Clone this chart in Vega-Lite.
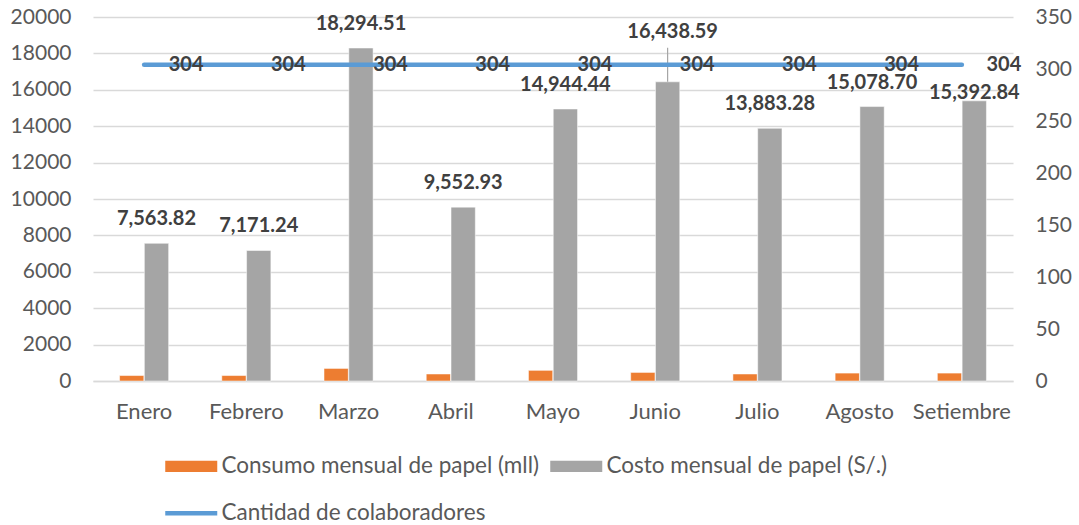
{
  "$schema": "https://vega.github.io/schema/vega-lite/v6.json",
  "autosize": {"type": "none"},
  "width": 920,
  "height": 364,
  "padding": {"left": 93, "top": 17, "right": 66, "bottom": 144},
  "background": "white",
  "config": {
    "view": {"stroke": null},
    "font": "Lato",
    "axis": {"labelFont": "Lato", "labelFontSize": 21, "labelColor": "#595959", "ticks": false, "domain": false},
    "legend": {"labelFont": "Lato", "labelFontSize": 22.5, "labelColor": "#595959"}
  },
  "data": {
    "values": [
      {"mes": "Enero", "serie": "Consumo mensual de papel (mll)", "valor": 300},
      {"mes": "Febrero", "serie": "Consumo mensual de papel (mll)", "valor": 300},
      {"mes": "Marzo", "serie": "Consumo mensual de papel (mll)", "valor": 690},
      {"mes": "Abril", "serie": "Consumo mensual de papel (mll)", "valor": 385},
      {"mes": "Mayo", "serie": "Consumo mensual de papel (mll)", "valor": 585},
      {"mes": "Junio", "serie": "Consumo mensual de papel (mll)", "valor": 470},
      {"mes": "Julio", "serie": "Consumo mensual de papel (mll)", "valor": 385},
      {"mes": "Agosto", "serie": "Consumo mensual de papel (mll)", "valor": 435},
      {"mes": "Setiembre", "serie": "Consumo mensual de papel (mll)", "valor": 435},
      {"mes": "Enero", "serie": "Costo mensual de papel (S/.)", "valor": 7563.82},
      {"mes": "Febrero", "serie": "Costo mensual de papel (S/.)", "valor": 7171.24},
      {"mes": "Marzo", "serie": "Costo mensual de papel (S/.)", "valor": 18294.51},
      {"mes": "Abril", "serie": "Costo mensual de papel (S/.)", "valor": 9552.93},
      {"mes": "Mayo", "serie": "Costo mensual de papel (S/.)", "valor": 14944.44},
      {"mes": "Junio", "serie": "Costo mensual de papel (S/.)", "valor": 16438.59},
      {"mes": "Julio", "serie": "Costo mensual de papel (S/.)", "valor": 13883.28},
      {"mes": "Agosto", "serie": "Costo mensual de papel (S/.)", "valor": 15078.70},
      {"mes": "Setiembre", "serie": "Costo mensual de papel (S/.)", "valor": 15392.84},
      {"mes": "Enero", "serie": "Cantidad de colaboradores", "valor": 304},
      {"mes": "Febrero", "serie": "Cantidad de colaboradores", "valor": 304},
      {"mes": "Marzo", "serie": "Cantidad de colaboradores", "valor": 304},
      {"mes": "Abril", "serie": "Cantidad de colaboradores", "valor": 304},
      {"mes": "Mayo", "serie": "Cantidad de colaboradores", "valor": 304},
      {"mes": "Junio", "serie": "Cantidad de colaboradores", "valor": 304},
      {"mes": "Julio", "serie": "Cantidad de colaboradores", "valor": 304},
      {"mes": "Agosto", "serie": "Cantidad de colaboradores", "valor": 304},
      {"mes": "Setiembre", "serie": "Cantidad de colaboradores", "valor": 304}
    ]
  },
  "encoding": {
    "x": {
      "field": "mes", "type": "nominal",
      "sort": ["Enero", "Febrero", "Marzo", "Abril", "Mayo", "Junio", "Julio", "Agosto", "Setiembre"],
      "scale": {"paddingInner": 0.52, "paddingOuter": 0.26},
      "axis": {"title": null, "labelAngle": 0, "labelPadding": 20, "labelFontSize": 22, "grid": false, "domain": true, "domainColor": "#d9d9d9", "domainWidth": 1.5}
    }
  },
  "layer": [
    {
      "transform": [{"filter": "datum.serie !== 'Cantidad de colaboradores'"}],
      "encoding": {
        "y": {
          "field": "valor", "type": "quantitative",
          "scale": {"domain": [0, 20000], "nice": false},
          "axis": {"title": null, "values": [0, 2000, 4000, 6000, 8000, 10000, 12000, 14000, 16000, 18000, 20000], "format": "d", "grid": true, "gridColor": "#d9d9d9", "gridWidth": 1.5, "labelPadding": 22, "orient": "left"}
        }
      },
      "layer": [
        {
          "mark": {"type": "bar", "stroke": "white", "strokeWidth": 0.5},
          "encoding": {
            "xOffset": {"field": "serie", "type": "nominal", "scale": {"paddingInner": 0.02}},
            "color": {
              "field": "serie", "type": "nominal",
              "scale": {"domain": ["Consumo mensual de papel (mll)", "Cantidad de colaboradores", "Costo mensual de papel (S/.)"], "range": ["#ed7d31", "#5b9bd5", "#a5a5a5"]},
              "legend": {
                "title": null, "orient": "none", "legendX": 87, "legendY": 438,
                "columns": 2, "columnPadding": 11, "rowPadding": 24, "padding": 0,
                "symbolSize": 2704, "labelOffset": 19, "labelLimit": 500,
                "symbolType": {"expr": "datum.value === 'Cantidad de colaboradores' ? 'M-1,0H1' : 'M-1,-0.22H1V0.22H-1Z'"},
                "symbolStrokeColor": {"expr": "datum.value === 'Cantidad de colaboradores' ? '#5b9bd5' : 'transparent'"},
                "symbolStrokeWidth": {"expr": "datum.value === 'Cantidad de colaboradores' ? 4.5 : 0"},
                "symbolOpacity": 1
              }
            }
          }
        },
        {
          "transform": [{"filter": "datum.serie === 'Costo mensual de papel (S/.)' && datum.mes !== 'Junio' && datum.mes !== 'Setiembre'"}],
          "mark": {"type": "text", "dy": -24, "fontWeight": "bold", "fontSize": 20, "color": "#404040", "font": "Lato"},
          "encoding": {
            "xOffset": {"field": "serie", "type": "nominal"},
            "text": {"field": "valor", "type": "quantitative", "format": ",.2f"}
          }
        },
        {
          "transform": [{"filter": "datum.serie === 'Costo mensual de papel (S/.)' && datum.mes === 'Setiembre'"}],
          "mark": {"type": "text", "dy": -8, "fontWeight": "bold", "fontSize": 20, "color": "#404040", "font": "Lato"},
          "encoding": {
            "xOffset": {"field": "serie", "type": "nominal"},
            "text": {"field": "valor", "type": "quantitative", "format": ",.2f"}
          }
        },
        {
          "transform": [{"filter": "datum.serie === 'Costo mensual de papel (S/.)' && datum.mes === 'Junio'"}],
          "mark": {"type": "text", "dy": -50, "dx": 5, "fontWeight": "bold", "fontSize": 20, "color": "#404040", "font": "Lato"},
          "encoding": {
            "xOffset": {"field": "serie", "type": "nominal"},
            "text": {"field": "valor", "type": "quantitative", "format": ",.2f"}
          }
        },
        {
          "transform": [{"filter": "datum.serie === 'Costo mensual de papel (S/.)' && datum.mes === 'Junio'"}],
          "mark": {"type": "rule", "color": "#a5a5a5", "strokeWidth": 1.2, "y2Offset": -34},
          "encoding": {
            "xOffset": {"field": "serie", "type": "nominal"},
            "y2": {"field": "valor"}
          }
        }
      ]
    },
    {
      "transform": [{"filter": "datum.serie === 'Cantidad de colaboradores'"}],
      "encoding": {
        "y": {
          "field": "valor", "type": "quantitative",
          "scale": {"domain": [0, 350], "nice": false},
          "axis": {"title": null, "orient": "right", "values": [0, 50, 100, 150, 200, 250, 300, 350], "grid": false, "labelPadding": 22}
        }
      },
      "layer": [
        {
          "mark": {"type": "line", "strokeWidth": 4.5, "strokeCap": "round", "color": "#5b9bd5"},
          "encoding": {"color": {"field": "serie", "type": "nominal"}}
        },
        {
          "mark": {"type": "text", "dx": 42, "fontWeight": "bold", "fontSize": 20, "color": "#404040", "font": "Lato", "baseline": "middle"},
          "encoding": {"text": {"field": "valor", "type": "quantitative"}}
        }
      ]
    }
  ],
  "resolve": {"scale": {"y": "independent"}}
}
